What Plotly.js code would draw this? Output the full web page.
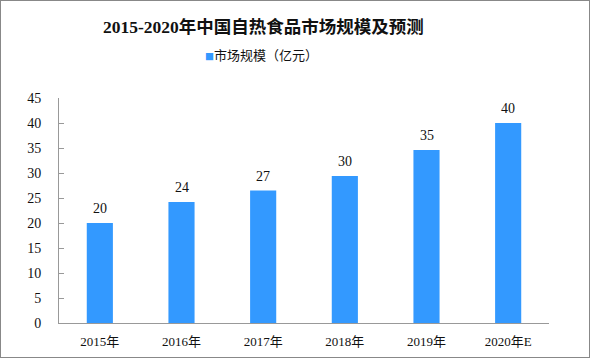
<!DOCTYPE html>
<html><head><meta charset="utf-8">
<script src="https://cdn.plot.ly/plotly-3.0.1.min.js"></script>
<style>
html,body{margin:0;padding:0;background:#fff;}
#c{width:588px;height:356px;border:1px solid #888;}
</style></head>
<body><div id="c"></div>
<script>
const categories = ["2015年","2016年","2017年","2018年","2019年","2020年E"];
const values = [20.0, 24.2, 26.5, 29.4, 34.6, 40.0];
const labels = ["20","24","27","30","35","40"];
const seriesName = "市场规模（亿元）";
const titleText = "2015-2020年中国自热食品市场规模及预测";
const yTicks = [0,5,10,15,20,25,30,35,40,45];
const barColor = '#3399ff';

const serif = "Liberation Serif, 'DejaVu Serif', 'Noto Sans CJK SC', serif";
const cjk = "'Noto Sans CJK SC', 'Liberation Serif', serif";

const annotations = categories.map((c,i)=>({
  x:c, y:values[i], text:labels[i], showarrow:false, yanchor:'bottom', yshift:5,
  font:{family:serif,size:14,color:'#111'}
}));

annotations.push({xref:'paper',yref:'paper',x:0.417,y:1.317,xanchor:'center',yanchor:'middle',showarrow:false,
  text:'<b>'+titleText+'</b>',font:{family:serif,size:17.5,color:'#111'}});
annotations.push({xref:'paper',yref:'paper',x:0.414,y:1.193,xanchor:'center',yanchor:'middle',showarrow:false,
  text:'<span style="color:'+barColor+';font-size:9px">■</span>'+seriesName,font:{family:cjk,size:13,color:'#111'}});

Plotly.newPlot('c',[{
  type:'bar', x:categories, y:values, name:seriesName,
  marker:{color:barColor}, showlegend:false
}],{
  width:588, height:356,
  margin:{l:58,r:40,t:97,b:34},
  paper_bgcolor:'#fff', plot_bgcolor:'#fff',
  bargap:0.68,
  showlegend:false,
  xaxis:{type:'category',showline:true,linecolor:'#999',linewidth:1,ticks:'',
    tickfont:{family:serif,size:13,color:'#111'},showgrid:false,zeroline:false,ticklabelstandoff:6},
  yaxis:{range:[0,45],tickvals:yTicks,showline:true,linecolor:'#999',linewidth:1,
    ticks:'inside',ticklen:5,tickcolor:'#999',showgrid:false,zeroline:false,
    tickfont:{family:serif,size:14,color:'#111'},ticklabelstandoff:14},
  annotations:annotations
},{displayModeBar:false,staticPlot:true});
</script></body></html>
